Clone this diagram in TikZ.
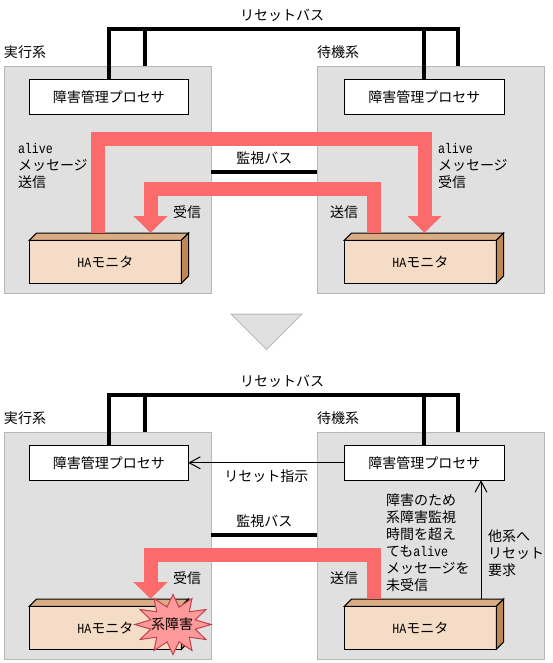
\documentclass[tikz,border=0pt]{standalone}
\usepackage{fontspec}
\setmainfont{Noto Sans CJK JP}
\newfontfamily\latfont[FakeStretch=0.83]{Liberation Mono}
\usetikzlibrary{arrows.meta,positioning}
\newcommand{\lat}[1]{{\latfont #1}}
\definecolor{sysgray}{HTML}{E0E0E0}
\definecolor{sysedge}{HTML}{B8B8B8}
\definecolor{alivered}{HTML}{FB6B6B}
\definecolor{hafront}{HTML}{F5DCC6}
\definecolor{hatop}{HTML}{DAAC84}
\definecolor{haside}{HTML}{C08850}
\definecolor{failfill}{HTML}{FF9A9A}
\definecolor{failedge}{HTML}{C04050}

\begin{document}
\begin{tikzpicture}[
  x=1pt,y=-1pt,
  font=\fontsize{14}{17}\selectfont,
  every node/.style={outer sep=0pt},
  sysbox/.style={draw=sysedge,fill=sysgray,line width=1pt,minimum width=227pt,minimum height=227pt,anchor=north west},
  procbox/.style={draw,fill=white,line width=1pt,minimum width=160pt,minimum height=35pt,anchor=north west},
  hamon/.style={draw,fill=hafront,line width=1pt,minimum width=152pt,minimum height=43pt,anchor=north west},
  note/.style={align=left,anchor=west,inner sep=0pt},
  bus/.style={line width=4.3pt},
  alive/.style={draw=alivered,line width=14pt,-{Triangle[length=17pt,width=33pt]}},
  ctrl/.style={draw,line width=1pt,-{Straight Barb[length=11pt,width=12pt]}}
]
\useasboundingbox (0,0) rectangle (552,663);

\foreach \p/\dy/\by in {a/0/172,b/366/169} {
  \begin{scope}[yshift=-\dy pt]
  \node[sysbox,minimum width=207pt] (\p s1) at (4.3,66.3) {};
  \node[sysbox] (\p s2) at (317.3,66.3) {};
  \node[procbox,minimum width=159pt] (\p p1) at (29.3,79.3) {障害管理プロセサ};
  \node[procbox] (\p p2) at (344.3,79.3) {障害管理プロセサ};
  \node[hamon] (\p h1) at (29.3,240.3) {\lat{HA}モニタ};
  \node[hamon] (\p h2) at (344.3,240.3) {\lat{HA}モニタ};
  \foreach \h in {\p h1,\p h2} {
    \draw[fill=hatop,line width=1pt] (\h.north west) -- ++(7.3,-7.3) -- ++(152,0) -- (\h.north east) -- cycle;
    \draw[fill=haside,line width=1pt] (\h.north east) -- ++(7.3,-7.3) -- ++(0,43) -- (\h.south east) -- cycle;
  }
  \node[note] (\p l1) at (4,52) {実行系};
  \node[note] (\p l2) at (317,52) {待機系};
  \node (\p rl) at (282,15) {リセットバス};
  \coordinate (\p r1) at (145,29);
  \coordinate (\p r2) at (458,29);
  \draw[bus] (\p p1.north) |- (\p r2) -- (\p r2 |- \p s2.north);
  \draw[bus] (\p r1) -- (\p r1 |- \p s1.north);
  \draw[bus] (\p p2.north) -- (\p p2.north |- \p r2);
  \draw[bus] (\p s1.east |- 0,\by) -- node[above=7pt,inner sep=0pt] (\p ml) {監視バス} (\p s2.west |- 0,\by);
  \coordinate (\p m1) at (150.5,189);
  \draw[alive] ([shift={(-46.3pt,7.3pt)}]\p h2.north) |- (\p m1) -- ([shift={(0pt,7.3pt)}]\p m1 |- \p h1.north);
  \node[note] (\p rv) at (173,212) {受信};
  \node[note] (\p sd) at (330,212) {送信};
  \end{scope}
}

% upper panel only
\coordinate (am) at (424.5,139);
\draw[alive] ([shift={(-7pt,7.3pt)}]ah1.north) |- (am) -- ([shift={(0pt,7.3pt)}]am |- ah2.north);
\node[note] (atx) at (18,166) {\lat{alive}\\メッセージ\\送信};
\node[note] (arx) at (438,166) {\lat{alive}\\メッセージ\\受信};
\draw[draw=sysedge,fill=sysgray,line width=1pt] (231,314) -- (302,314) -- (266.5,349.5) -- cycle;

% lower panel only
\draw[ctrl] (bp2.west) -- node[below=7pt,inner sep=0pt] (brs) {リセット指示} (bp1.east);
\coordinate (bq) at (481,480);
\draw[ctrl] ([yshift=7.3pt]bq |- bh2.north) -- (bq |- bp2.south);
\node[note] (bwhy) at (386,543) {障害のため\\系障害監視\\時間を超え\\ても\lat{alive}\\メッセージを\\未受信};
\node[note] (bask) at (488,553) {他系へ\\リセット\\要求};
\draw[draw=failedge,fill=failfill,line width=1pt] plot[samples at={0,15,...,345}]
  ({173+cos(\x)*(38-15*mod(\x/15,2))},{624.5+sin(\x)*(30-12*mod(\x/15,2))}) -- cycle;
\node[inner sep=0pt] (bfail) at (172,624) {系障害};
\end{tikzpicture}
\end{document}
